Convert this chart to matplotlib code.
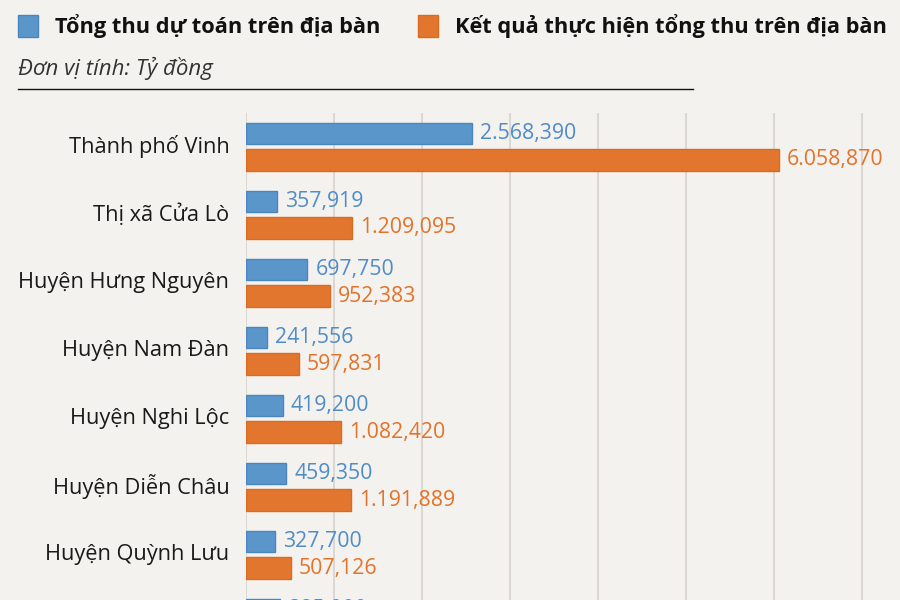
import numpy as np
import matplotlib.pyplot as plt
from matplotlib.patches import Rectangle
from matplotlib.lines import Line2D

plt.rcParams['font.family'] = ['Open Sans', 'DejaVu Sans']

# Don vi: ty dong
districts = ["Thành phố Vinh", "Thị xã Cửa Lò", "Huyện Hưng Nguyên", "Huyện Nam Đàn",
             "Huyện Nghi Lộc", "Huyện Diễn Châu", "Huyện Quỳnh Lưu", ""]
du_toan = [2568.390, 357.919, 697.750, 241.556, 419.200, 459.350, 327.700, 385.0]
thuc_hien = [6058.870, 1209.095, 952.383, 597.831, 1082.420, 1191.889, 507.126, np.nan]

BLUE = '#5b96cb'
BLUE_EDGE = '#4a85c0'
BLUE_TXT = '#4f8cc9'
ORANGE = '#e3762e'
ORANGE_EDGE = '#d96a20'
ORANGE_TXT = '#e3732a'
BG = '#f4f2ee'


def vn_fmt(v):
    s = f"{v:,.3f}"
    return s.replace(',', 'X').replace('.', ',').replace('X', '.')


fig = plt.figure(figsize=(9, 6), dpi=100, facecolor=BG)
ax = fig.add_axes([246 / 900, 0, 1 - 246 / 900, 1 - 113 / 600])
ax.set_facecolor(BG)

y = np.arange(len(districts))
h = 0.31
off = 0.196
ax.barh(y - off, du_toan, height=h, color=BLUE, edgecolor=BLUE_EDGE, linewidth=1, zorder=3)
ax.barh(y + off, thuc_hien, height=h, color=ORANGE, edgecolor=ORANGE_EDGE, linewidth=1, zorder=3)

for i in range(len(districts)):
    ax.text(du_toan[i] + 90, y[i] - off, vn_fmt(du_toan[i]), color=BLUE_TXT,
            fontsize=15.3, va='center', ha='left', zorder=4)
    if not np.isnan(thuc_hien[i]):
        ax.text(thuc_hien[i] + 90, y[i] + off, vn_fmt(thuc_hien[i]), color=ORANGE_TXT,
                fontsize=15.3, va='center', ha='left', zorder=4)
    ax.text(-190, y[i], districts[i], fontsize=15.7, va='center', ha='right', color='#1a1a1a')

ax.set_xlim(0, 654 / 88 * 1000)
ax.set_ylim((600 - 146.7) / 68, -0.495)
ax.set_xticks(np.arange(0, 8000, 1000))
ax.grid(axis='x', color='#d6d3ce', linewidth=1.2, zorder=0)
ax.tick_params(left=False, bottom=False, labelleft=False, labelbottom=False)
for s in ax.spines.values():
    s.set_visible(False)

# chu thich phia tren
fig.patches.append(Rectangle((18 / 900, 1 - 37 / 600), 20 / 900, 22 / 600, transform=fig.transFigure,
                             facecolor=BLUE, edgecolor=BLUE_EDGE, linewidth=1))
fig.text(55 / 900, 1 - 26 / 600, "Tổng thu dự toán trên địa bàn", fontsize=15.7, fontweight='bold',
         va='center', ha='left', color='#111111')
fig.patches.append(Rectangle((418 / 900, 1 - 37 / 600), 20 / 900, 22 / 600, transform=fig.transFigure,
                             facecolor=ORANGE, edgecolor=ORANGE_EDGE, linewidth=1))
fig.text(455 / 900, 1 - 26 / 600, "Kết quả thực hiện tổng thu trên địa bàn", fontsize=15.7, fontweight='bold',
         va='center', ha='left', color='#111111')

fig.text(18 / 900, 1 - 68 / 600, "Đơn vị tính: Tỷ đồng", fontsize=16, style='italic',
         va='center', ha='left', color='#333333')
fig.lines.append(Line2D([18 / 900, 693 / 900], [1 - 89 / 600, 1 - 89 / 600], transform=fig.transFigure,
                        color='#111111', linewidth=1))

fig.savefig('out.png', dpi=100, facecolor=BG)
